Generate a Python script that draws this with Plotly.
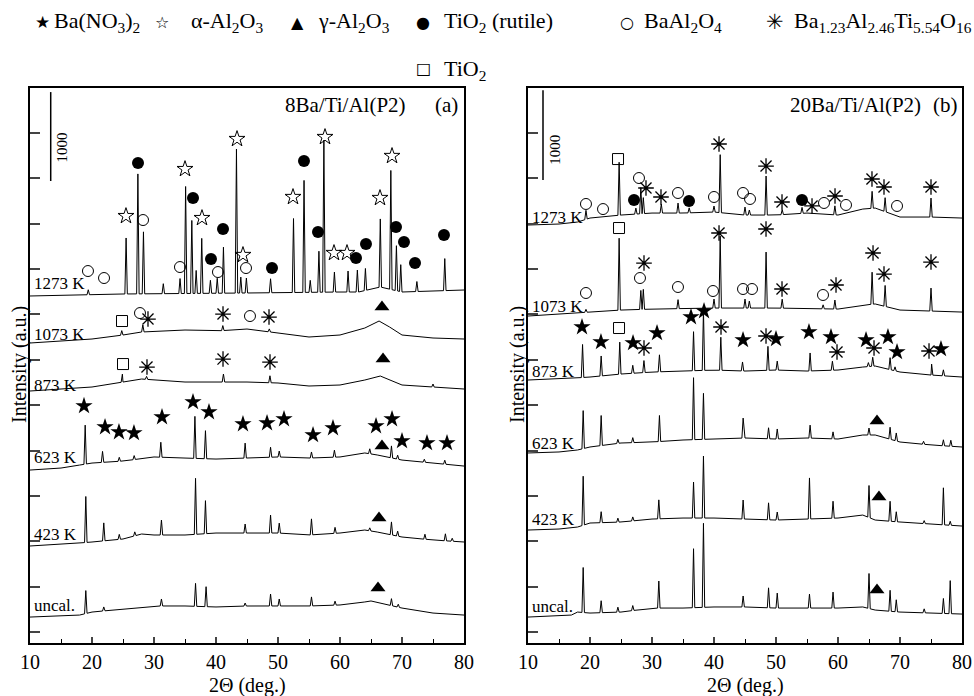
import numpy as np
import plotly.graph_objects as go

# ---------------- data: panel (a) 8Ba/Ti/Al(P2) ----------------
a1273_bx = [10, 25, 45, 60, 63, 66.5, 70, 80]
a1273_by = [3703, 3725, 3736, 3747, 3747, 3802, 3747, 3769]
a1273_px = [19.4, 25.5, 27.4, 28.3, 31.5, 34.2, 35.1, 36.1, 36.8, 37.7, 39.1, 40.2, 41.2, 43.3, 44.0, 44.9,
            48.8, 52.5, 54.2, 55.2, 56.6, 57.4, 59.1, 61.3, 62.8, 64.1, 66.5, 68.2, 69.1, 69.8, 72.4, 76.9]
a1273_ph = [55, 617, 1322, 683, 110, 165, 1179, 804, 253, 606, 143, 165, 507, 1587, 176, 165,
            154, 815, 1234, 132, 452, 1675, 220, 231, 242, 242, 750, 1311, 496, 298, 110, 353]

a1073_bx = [10, 20, 25, 28, 35, 40, 45, 50, 55, 60, 64, 66.3, 68, 70, 75, 80]
a1073_by = [3185, 3229, 3273, 3306, 3328, 3317, 3339, 3295, 3251, 3273, 3350, 3427, 3361, 3273, 3240, 3229]
a1073_px = [24.8, 28.2, 41.1, 48.6]
a1073_ph = [50, 77, 55, 33]

a873_bx = [10, 20, 25, 28, 35, 40, 45, 50, 55, 60, 64, 66.5, 70, 75, 80]
a873_by = [2656, 2700, 2755, 2788, 2755, 2755, 2755, 2744, 2711, 2722, 2777, 2821, 2722, 2700, 2678]
a873_px = [24.9, 28.8, 41.2, 48.7, 75.0]
a873_ph = [88, 33, 88, 77, 33]

a623_bx = [10, 15, 18, 20, 25, 30, 35, 40, 50, 55, 60, 64, 66, 70, 75, 80]
a623_by = [1785, 1807, 1840, 1862, 1884, 1929, 1917, 1906, 1929, 1917, 1929, 1973, 1951, 1895, 1862, 1829]
a623_px = [18.9, 21.7, 24.4, 26.8, 31.1, 36.6, 38.3, 44.7, 48.8, 50.2, 55.4, 59.1, 64.8, 68.3, 69.3, 73.6, 76.9]
a623_ph = [430, 121, 44, 44, 165, 463, 309, 165, 110, 66, 66, 77, 55, 132, 44, 33, 44]

a423_bx = [10, 15, 18, 20, 25, 28, 30, 35, 40, 45, 50, 55, 60, 64, 66, 70, 75, 80]
a423_by = [948, 970, 981, 992, 1025, 1080, 1069, 1069, 1091, 1091, 1091, 1069, 1091, 1124, 1102, 1047, 1014, 992]
a423_px = [19.0, 21.9, 24.4, 26.9, 31.2, 36.7, 38.3, 44.7, 48.8, 50.2, 55.4, 59.2, 64.8, 68.3, 69.3, 73.7, 77.0, 78.1]
a423_ph = [507, 198, 55, 44, 165, 617, 364, 99, 198, 110, 176, 66, 33, 143, 55, 55, 77, 33]

aunc_bx = [10, 15, 18, 20, 25, 30, 35, 40, 45, 50, 55, 60, 64, 65, 70, 75, 80]
aunc_by = [165, 176, 187, 220, 253, 287, 287, 276, 287, 287, 287, 298, 331, 342, 264, 209, 187]
aunc_px = [19.0, 21.9, 31.2, 36.7, 38.4, 44.7, 48.8, 50.2, 55.4, 59.2, 68.3, 69.4]
aunc_ph = [253, 44, 77, 253, 220, 33, 132, 77, 99, 44, 77, 33]

# ---------------- data: panel (b) 20Ba/Ti/Al(P2) ----------------
b1273_bx = [10, 15, 18, 20, 25, 30, 35, 40, 45, 50, 55, 60, 64, 66, 70, 75, 80]
b1273_by = [4485, 4496, 4518, 4562, 4595, 4617, 4617, 4628, 4595, 4595, 4617, 4595, 4661, 4672, 4573, 4573, 4562]
b1273_px = [19.35, 24.7, 27.4, 28.2, 28.6, 31.5, 34.2, 36.0, 40.0, 41.0, 45.0, 45.7, 48.4, 51.0, 54.2, 59.5, 65.5, 67.6, 75.0]
b1273_ph = [99, 584, 66, 287, 176, 99, 110, 55, 66, 639, 88, 55, 430, 55, 66, 99, 187, 154, 209]

b1073_bx = [10, 20, 25, 30, 40, 50, 60, 64, 66, 70, 80]
b1073_by = [3482, 3526, 3548, 3559, 3570, 3570, 3559, 3604, 3615, 3548, 3526]
b1073_px = [19.35, 24.7, 28.2, 28.6, 34.2, 40.0, 41.0, 45.0, 45.7, 48.4, 51.0, 57.6, 59.5, 65.5, 67.6, 75.0]
b1073_ph = [33, 793, 209, 220, 99, 99, 793, 99, 77, 617, 99, 44, 99, 353, 231, 253]

b873_bx = [10, 15, 20, 25, 30, 35, 40, 45, 50, 55, 60, 64, 66, 70, 75, 80]
b873_by = [2777, 2788, 2810, 2843, 2865, 2876, 2887, 2876, 2887, 2876, 2887, 2920, 2931, 2865, 2832, 2810]
b873_px = [18.8, 21.8, 24.8, 26.9, 28.7, 31.2, 36.7, 38.3, 41.1, 44.6, 48.7, 50.2, 55.5, 59.1, 64.9, 65.6, 68.4, 69.2, 75.1, 77.0]
b873_ph = [364, 220, 353, 88, 132, 187, 430, 661, 364, 99, 264, 99, 198, 99, 44, 99, 132, 44, 121, 66]

b623_bx = [10, 15, 18, 20, 25, 30, 35, 40, 45, 50, 55, 60, 64, 66, 70, 75, 80]
b623_by = [1973, 1984, 2006, 2039, 2083, 2094, 2116, 2127, 2138, 2127, 2138, 2127, 2171, 2171, 2094, 2061, 2039]
b623_px = [18.9, 21.8, 24.5, 26.9, 31.2, 36.7, 38.3, 44.7, 48.8, 50.2, 55.5, 59.2, 65.0, 68.4, 69.4, 73.8, 77.0, 78.2]
b623_ph = [419, 331, 44, 55, 287, 683, 507, 220, 121, 110, 143, 77, 77, 132, 88, 33, 66, 66]

b423_bx = [10, 15, 18, 20, 25, 30, 35, 40, 45, 50, 55, 60, 64, 66, 70, 75, 80]
b423_by = [1124, 1135, 1157, 1201, 1212, 1245, 1256, 1256, 1245, 1234, 1245, 1256, 1289, 1234, 1212, 1190, 1168]
b423_px = [18.9, 21.8, 24.5, 26.9, 31.1, 36.7, 38.3, 44.7, 48.8, 50.2, 55.4, 59.2, 65.0, 68.4, 69.4, 73.9, 77.0, 78.1]
b423_ph = [540, 121, 44, 44, 209, 397, 683, 209, 187, 88, 452, 187, 353, 220, 110, 33, 408, 44]

bunc_bx = [10, 15, 17, 18, 20, 25, 30, 35, 40, 45, 50, 55, 60, 64, 66, 70, 75, 80]
bunc_by = [165, 176, 187, 220, 209, 220, 264, 264, 276, 276, 264, 264, 264, 276, 242, 220, 209, 198]
bunc_px = [18.9, 21.8, 24.5, 26.9, 31.1, 36.7, 38.3, 44.7, 48.8, 50.2, 55.4, 59.2, 65.0, 68.4, 69.4, 73.9, 77.0, 78.1]
bunc_ph = [496, 132, 55, 55, 298, 650, 926, 121, 220, 165, 154, 176, 386, 231, 132, 44, 165, 364]

# ---------------- phase markers ----------------
a_alpha_x = [25.48, 35.0, 37.74, 43.39, 44.35, 52.42, 57.58, 59.03, 61.13, 66.45, 68.39]
a_alpha_y = [4584, 5102, 4562, 5433, 4155, 4794, 5455, 4177, 4177, 4783, 5246]
a_rutile_x = [27.42, 36.29, 39.19, 41.13, 49.03, 54.19, 56.45, 62.58, 64.19, 69.03, 70.32, 72.1, 76.77]
a_rutile_y = [5168, 4783, 4110, 4441, 4011, 5190, 4408, 4121, 4276, 4463, 4298, 4066, 4375]
a_baal_x = [19.35, 21.94, 28.23, 34.19, 40.32, 44.84, 27.74, 45.48]
a_baal_y = [3978, 3901, 4540, 4022, 3967, 4011, 3515, 3482]
a_bat_x = [29.03, 41.13, 48.55, 28.87, 41.13, 48.71]
a_bat_y = [3449, 3504, 3471, 2920, 3008, 2975]
a_tio2_x = [24.84, 25.0]
a_tio2_y = [3427, 2953]
a_nit_x = [18.71, 22.1, 24.35, 26.77, 31.29, 36.29, 38.87, 44.35, 48.23, 50.97, 55.65, 58.87, 65.81, 68.39, 70.0, 74.03, 77.26]
a_nit_y = [2491, 2259, 2204, 2193, 2369, 2535, 2424, 2292, 2303, 2347, 2171, 2248, 2270, 2347, 2105, 2083, 2083]
a_gamma_x = [66.77, 66.94, 66.77, 66.29, 66.13]
a_gamma_y = [3582, 3008, 2050, 1256, 485]

b_tio2_x = [24.52, 24.68, 24.68]
b_tio2_y = [5212, 4452, 3350]
b_baal_x = [19.35, 22.1, 27.9, 34.19, 40.0, 44.68, 45.81, 57.74, 61.29, 69.52,
            19.35, 28.06, 34.19, 39.84, 44.68, 46.13, 57.58]
b_baal_y = [4717, 4661, 5003, 4838, 4794, 4838, 4772, 4728, 4706, 4695,
            3736, 3901, 3802, 3758, 3780, 3780, 3714]
b_rutile_x = [27.1, 35.97, 54.19]
b_rutile_y = [4761, 4750, 4761]
b_bat_x = [29.03, 31.45, 40.81, 48.39, 50.97, 55.81, 59.52, 65.48, 67.42, 75.0,
           28.71, 40.81, 48.39, 50.97, 59.68, 65.65, 67.42, 75.0,
           28.71, 41.13, 48.39, 59.84, 65.81, 74.68]
b_bat_y = [4893, 4794, 5378, 5135, 4739, 4695, 4805, 4992, 4904, 4904,
           4066, 4397, 4441, 3780, 3824, 4177, 3945, 4077,
           3130, 3361, 3262, 3086, 3130, 3097]
b_nit_x = [18.71, 21.77, 26.94, 30.81, 36.29, 38.39, 44.68, 50.0, 55.32, 58.87, 64.52, 68.06, 69.52, 76.61]
b_nit_y = [3361, 3196, 3185, 3295, 3471, 3537, 3218, 3229, 3306, 3251, 3218, 3251, 3086, 3119]
b_gamma_x = [66.29, 66.61, 66.29]
b_gamma_y = [2325, 1488, 463]

sample_labels = ["1273 K", "1073 K", "873 K", "623 K", "423 K", "uncal."]
a_label_y = [3846, 3284, 2722, 1928, 1080, 287]
b_label_y = [4573, 3582, 2876, 2083, 1245, 276]

x_ticks = [10, 20, 30, 40, 50, 60, 70, 80]
y_ticks = [0, 500, 1000, 1500, 2000, 2500, 3000, 3500, 4000, 4500, 5000, 5500]

FONT = "Liberation Serif, Times New Roman, serif"
HW = 0.2  # half width of the drawn peaks (deg)


def pattern(bx, by, px, ph):
    xs = np.unique(np.concatenate([bx, np.array(px) - HW, px, np.array(px) + HW]))
    ys = np.interp(xs, bx, by)
    for p, h in zip(px, ph):
        ys[np.isclose(xs, p)] += h
    return xs, ys


fig = go.Figure()

panels = [
    ("x", "y", [(a1273_bx, a1273_by, a1273_px, a1273_ph), (a1073_bx, a1073_by, a1073_px, a1073_ph),
                (a873_bx, a873_by, a873_px, a873_ph), (a623_bx, a623_by, a623_px, a623_ph),
                (a423_bx, a423_by, a423_px, a423_ph), (aunc_bx, aunc_by, aunc_px, aunc_ph)]),
    ("x2", "y2", [(b1273_bx, b1273_by, b1273_px, b1273_ph), (b1073_bx, b1073_by, b1073_px, b1073_ph),
                  (b873_bx, b873_by, b873_px, b873_ph), (b623_bx, b623_by, b623_px, b623_ph),
                  (b423_bx, b423_by, b423_px, b423_ph), (bunc_bx, bunc_by, bunc_px, bunc_ph)]),
]
for xa, ya, traces in panels:
    for bx, by, px, ph in traces:
        xs, ys = pattern(np.array(bx, float), np.array(by, float), px, ph)
        fig.add_trace(go.Scatter(x=xs, y=ys, mode="lines", xaxis=xa, yaxis=ya,
                                 line=dict(color="black", width=1), showlegend=False, hoverinfo="skip"))


def marks(x, y, xa, ya, symbol, size, lw=1):
    fig.add_trace(go.Scatter(x=x, y=y, mode="markers", xaxis=xa, yaxis=ya, showlegend=False,
                             marker=dict(symbol=symbol, size=size, color="black",
                                         line=dict(color="black", width=lw))))


marks(a_alpha_x, a_alpha_y, "x", "y", "star-open", 12)
marks(a_rutile_x, a_rutile_y, "x", "y", "circle", 12, 0)
marks(a_baal_x, a_baal_y, "x", "y", "circle-open", 11)
marks(a_bat_x, a_bat_y, "x", "y", "asterisk-open", 13, 1.3)
marks(a_tio2_x, a_tio2_y, "x", "y", "square-open", 11)
marks(a_nit_x, a_nit_y, "x", "y", "star", 13, 0)
marks(a_gamma_x, a_gamma_y, "x", "y", "triangle-up", 13, 0)

marks(b_tio2_x, b_tio2_y, "x2", "y2", "square-open", 11)
marks(b_baal_x, b_baal_y, "x2", "y2", "circle-open", 11)
marks(b_rutile_x, b_rutile_y, "x2", "y2", "circle", 12, 0)
marks(b_bat_x, b_bat_y, "x2", "y2", "asterisk-open", 13, 1.3)
marks(b_nit_x, b_nit_y, "x2", "y2", "star", 13, 0)
marks(b_gamma_x, b_gamma_y, "x2", "y2", "triangle-up", 13, 0)

ann = []
for lab, ya_, yb_ in zip(sample_labels, a_label_y, b_label_y):
    ann.append(dict(x=10.4, y=ya_, xref="x", yref="y", text=lab, showarrow=False, xanchor="left",
                    yanchor="middle", font=dict(family=FONT, size=17, color="black")))
    ann.append(dict(x=10.4, y=yb_, xref="x2", yref="y2", text=lab, showarrow=False, xanchor="left",
                    yanchor="middle", font=dict(family=FONT, size=17, color="black")))

# scale bars
shapes = [
    dict(type="line", xref="x", yref="y", x0=13.34, x1=13.34, y0=4970, y1=5950, line=dict(color="black", width=1.5)),
    dict(type="line", xref="x2", yref="y2", x0=12.42, x1=12.42, y0=4980, y1=5970, line=dict(color="black", width=1.5)),
]
ann.append(dict(x=15.1, y=5334, xref="x", yref="y", text="1000", textangle=-90, showarrow=False,
                font=dict(family=FONT, size=15, color="black")))
ann.append(dict(x=14.3, y=5312, xref="x2", yref="y2", text="1000", textangle=-90, showarrow=False,
                font=dict(family=FONT, size=15, color="black")))


def ptxt(x, y, text, anchor="left", size=21, family=FONT, angle=0):
    ann.append(dict(x=x / 974, y=1 - y / 696, xref="paper", yref="paper", text=text, showarrow=False,
                    xanchor=anchor, yanchor="middle", textangle=angle,
                    font=dict(family=family, size=size, color="black")))


# panel titles
ptxt(408, 105, "8Ba/Ti/Al(P2)", "right")
ptxt(460, 105, "(a)", "right")
ptxt(923, 105, "20Ba/Ti/Al(P2)", "right")
ptxt(960, 105, "(b)", "right")

# axis titles
for cx in (19, 517):
    ptxt(cx, 365, "Intensity (a.u.)", "center", 20, FONT, -90)
for cx in (247, 745):
    ptxt(cx, 685, "2Θ (deg.)", "center", 20)

# legend (top)
SYM = "DejaVu Sans"
legend_items = [(42, 22, "★", 17), (162, 22, "☆", 16), (297, 22, "▲", 16), (423, 22, "●", 16),
                (627, 22, "○", 16), (775, 22, "✳", 21), (423, 68, "□", 16)]
for x, y, s, sz in legend_items:
    ptxt(x, y, s, "center", sz, SYM)
legend_texts = [(52, 22, "Ba(NO<sub>3</sub>)<sub>2</sub>"), (189, 22, "α-Al<sub>2</sub>O<sub>3</sub>"),
                (316, 22, "γ-Al<sub>2</sub>O<sub>3</sub>"), (442, 22, "TiO<sub>2</sub> (rutile)"),
                (642, 22, "BaAl<sub>2</sub>O<sub>4</sub>"),
                (792, 22, "Ba<sub>1.23</sub>Al<sub>2.46</sub>Ti<sub>5.54</sub>O<sub>16</sub>"),
                (442, 70, "TiO<sub>2</sub>")]
for x, y, t in legend_texts:
    ptxt(x, y, t, "left", 22)

xcommon = dict(range=[10, 80], tickvals=x_ticks, ticks="inside", ticklen=6, tickwidth=1.5,
               showline=True, linecolor="black", linewidth=1.5, mirror=True, showgrid=False, zeroline=False,
               automargin=False, tickfont=dict(family=FONT, size=20, color="black"),
               minor=dict(dtick=5, ticks="inside", ticklen=4, tickwidth=1.2, tickcolor="black"))
ycommon = dict(range=[-121, 5995], tickvals=y_ticks, ticks="inside", ticklen=10, tickwidth=1.5,
               showticklabels=False, showline=True, linecolor="black", linewidth=1.5, mirror=True,
               automargin=False, showgrid=False, zeroline=False)

ydom = [53 / 696, 608 / 696]
fig.update_layout(
    width=974, height=696, margin=dict(l=0, r=0, t=0, b=0, pad=0, autoexpand=False),
    paper_bgcolor="white", plot_bgcolor="white", showlegend=False,
    xaxis=dict(domain=[30 / 974, 464 / 974], anchor="y", **xcommon),
    yaxis=dict(domain=ydom, anchor="x", **ycommon),
    xaxis2=dict(domain=[528 / 974, 962 / 974], anchor="y2", **xcommon),
    yaxis2=dict(domain=ydom, anchor="x2", **ycommon),
    annotations=ann, shapes=shapes,
)

fig.write_html("out.html")
